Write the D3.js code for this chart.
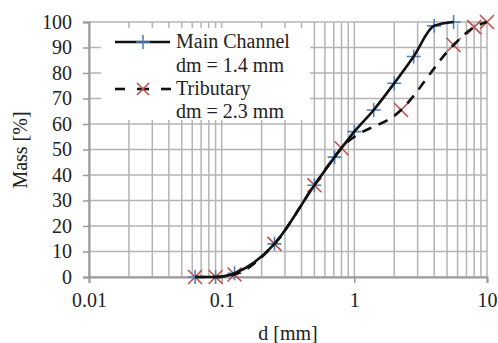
<!DOCTYPE html>
<html>
<head>
<meta charset="utf-8">
<script src="https://cdn.jsdelivr.net/npm/d3@7"></script>
<style>
  body { margin: 0; background: #fff; }
  svg { display: block; font-family: "Liberation Serif", "Times New Roman", serif; }
</style>
</head>
<body>
<svg id="chart" width="498" height="343"></svg>
<script>
// sieve sizes [mm] and passing mass [%]
const mainD = [0.063, 0.09, 0.125, 0.25, 0.5, 0.71, 1, 1.4, 2, 2.8, 4, 5.6]
const mainMass = [0, 0, 1.5, 13, 36, 47, 57, 65.5, 76, 86.5, 98.5, 100]
const tribD = [0.063, 0.09, 0.125, 0.25, 0.5, 0.8, 2.25, 5.6, 8, 10]
const tribMass = [0, 0, 1, 13, 36, 50.5, 65.5, 91, 98, 100]
const xTicks = [0.01, 0.1, 1, 10]
const yTicks = [0, 10, 20, 30, 40, 50, 60, 70, 80, 90, 100]
const legendLines = ["Main Channel", "dm = 1.4 mm", "Tributary", "dm = 2.3 mm"]

const svg = d3.select("#chart")
const plotL = 89, plotR = 487, plotT = 22, plotB = 277
const gridCol = "#b4b4b4"
const blue = "#4f81bd", red = "#c0504d"

let x = d3.scaleLog().domain([0.01, 10]).range([plotL, plotR])
let y = d3.scaleLinear().domain([0, 100]).range([plotB, plotT])

// minor log grid (1..9 per decade)
let minor = []
for (let dec = 0.01; dec < 10; dec *= 10) {
    for (let k = 1; k <= 9; k++) minor.push(+(dec * k).toPrecision(3))
}
minor.push(10)

let grid = svg.append("g")
grid.selectAll("line.v").data(minor).join("line").attr("class", "v")
    .attr("x1", d => x(d)).attr("x2", d => x(d))
    .attr("y1", plotT).attr("y2", plotB)
    .attr("stroke", gridCol).attr("stroke-width", 1.5)
grid.selectAll("line.h").data(yTicks).join("line").attr("class", "h")
    .attr("x1", plotL).attr("x2", plotR)
    .attr("y1", d => y(d)).attr("y2", d => y(d))
    .attr("stroke", gridCol).attr("stroke-width", 1.5)

// axes
let yAxis = svg.append("g").attr("transform", `translate(${plotL},0)`)
    .call(d3.axisLeft(y).tickValues(yTicks).tickSize(6).tickPadding(11))
let xAxis = svg.append("g").attr("transform", `translate(0,${plotB})`)
    .call(d3.axisBottom(x).tickValues(xTicks).tickFormat(d => d).tickSize(6).tickPadding(10))
for (let ax of [xAxis, yAxis]) {
    ax.select(".domain").attr("stroke", "#9a9a9a").attr("stroke-width", 2)
    ax.selectAll(".tick line").attr("stroke", "#9a9a9a").attr("stroke-width", 1.5)
    ax.selectAll("text").attr("font-size", 20).attr("fill", "#222")
        .attr("font-family", "Liberation Serif")
}

// legend box (white, covers grid)
svg.append("rect").attr("x", 101).attr("y", 28).attr("width", 209).attr("height", 92)
    .attr("fill", "#fff")

function plus(g, px, py, s) {
    g.append("path").attr("d", `M${px - s},${py}H${px + s}M${px},${py - s}V${py + s}`)
        .attr("stroke", blue).attr("stroke-width", 1.6).attr("fill", "none")
}
function cross(g, px, py, s) {
    g.append("path").attr("d", `M${px - s},${py - s}L${px + s},${py + s}M${px - s},${py + s}L${px + s},${py - s}`)
        .attr("stroke", red).attr("stroke-width", 1.6).attr("fill", "none")
}

// lines
let mainPts = mainD.map((d, i) => [x(d), y(mainMass[i])])
let tribPts = tribD.map((d, i) => [x(d), y(tribMass[i])])
let line = d3.line().curve(d3.curveMonotoneX)

let marks = svg.append("g")
tribPts.forEach(p => cross(marks, p[0], p[1], 7))
mainPts.forEach(p => plus(marks, p[0], p[1], 7))

svg.append("path").attr("d", line(tribPts)).attr("fill", "none")
    .attr("stroke", "#111").attr("stroke-width", 2.6).attr("stroke-dasharray", "10,8")
svg.append("path").attr("d", line(mainPts)).attr("fill", "none")
    .attr("stroke", "#111").attr("stroke-width", 2.6)

// legend
let lg = svg.append("g")
lg.append("line").attr("x1", 115).attr("x2", 170).attr("y1", 42).attr("y2", 42)
    .attr("stroke", "#111").attr("stroke-width", 2.6)
plus(lg, 143, 42, 7)
for (let seg of [[115, 125], [161, 171]]) {
    lg.append("line").attr("x1", seg[0]).attr("x2", seg[1]).attr("y1", 89).attr("y2", 89)
        .attr("stroke", "#111").attr("stroke-width", 2.6)
}
lg.append("line").attr("x1", 137).attr("x2", 149).attr("y1", 89).attr("y2", 89)
    .attr("stroke", "#111").attr("stroke-width", 2.6)
cross(lg, 143, 89, 6)
lg.selectAll("text").data(legendLines).join("text")
    .attr("x", 176).attr("y", (d, i) => [48, 72, 95, 118][i])
    .attr("font-size", 20).attr("fill", "#222")
    .text(d => d)

// axis titles
svg.append("text").attr("x", 288).attr("y", 340).attr("text-anchor", "middle")
    .attr("font-size", 20).attr("fill", "#222").text("d [mm]")
svg.append("text").attr("transform", "translate(27,150) rotate(-90)")
    .attr("text-anchor", "middle").attr("font-size", 20).attr("fill", "#222").text("Mass [%]")
</script>
</body>
</html>
